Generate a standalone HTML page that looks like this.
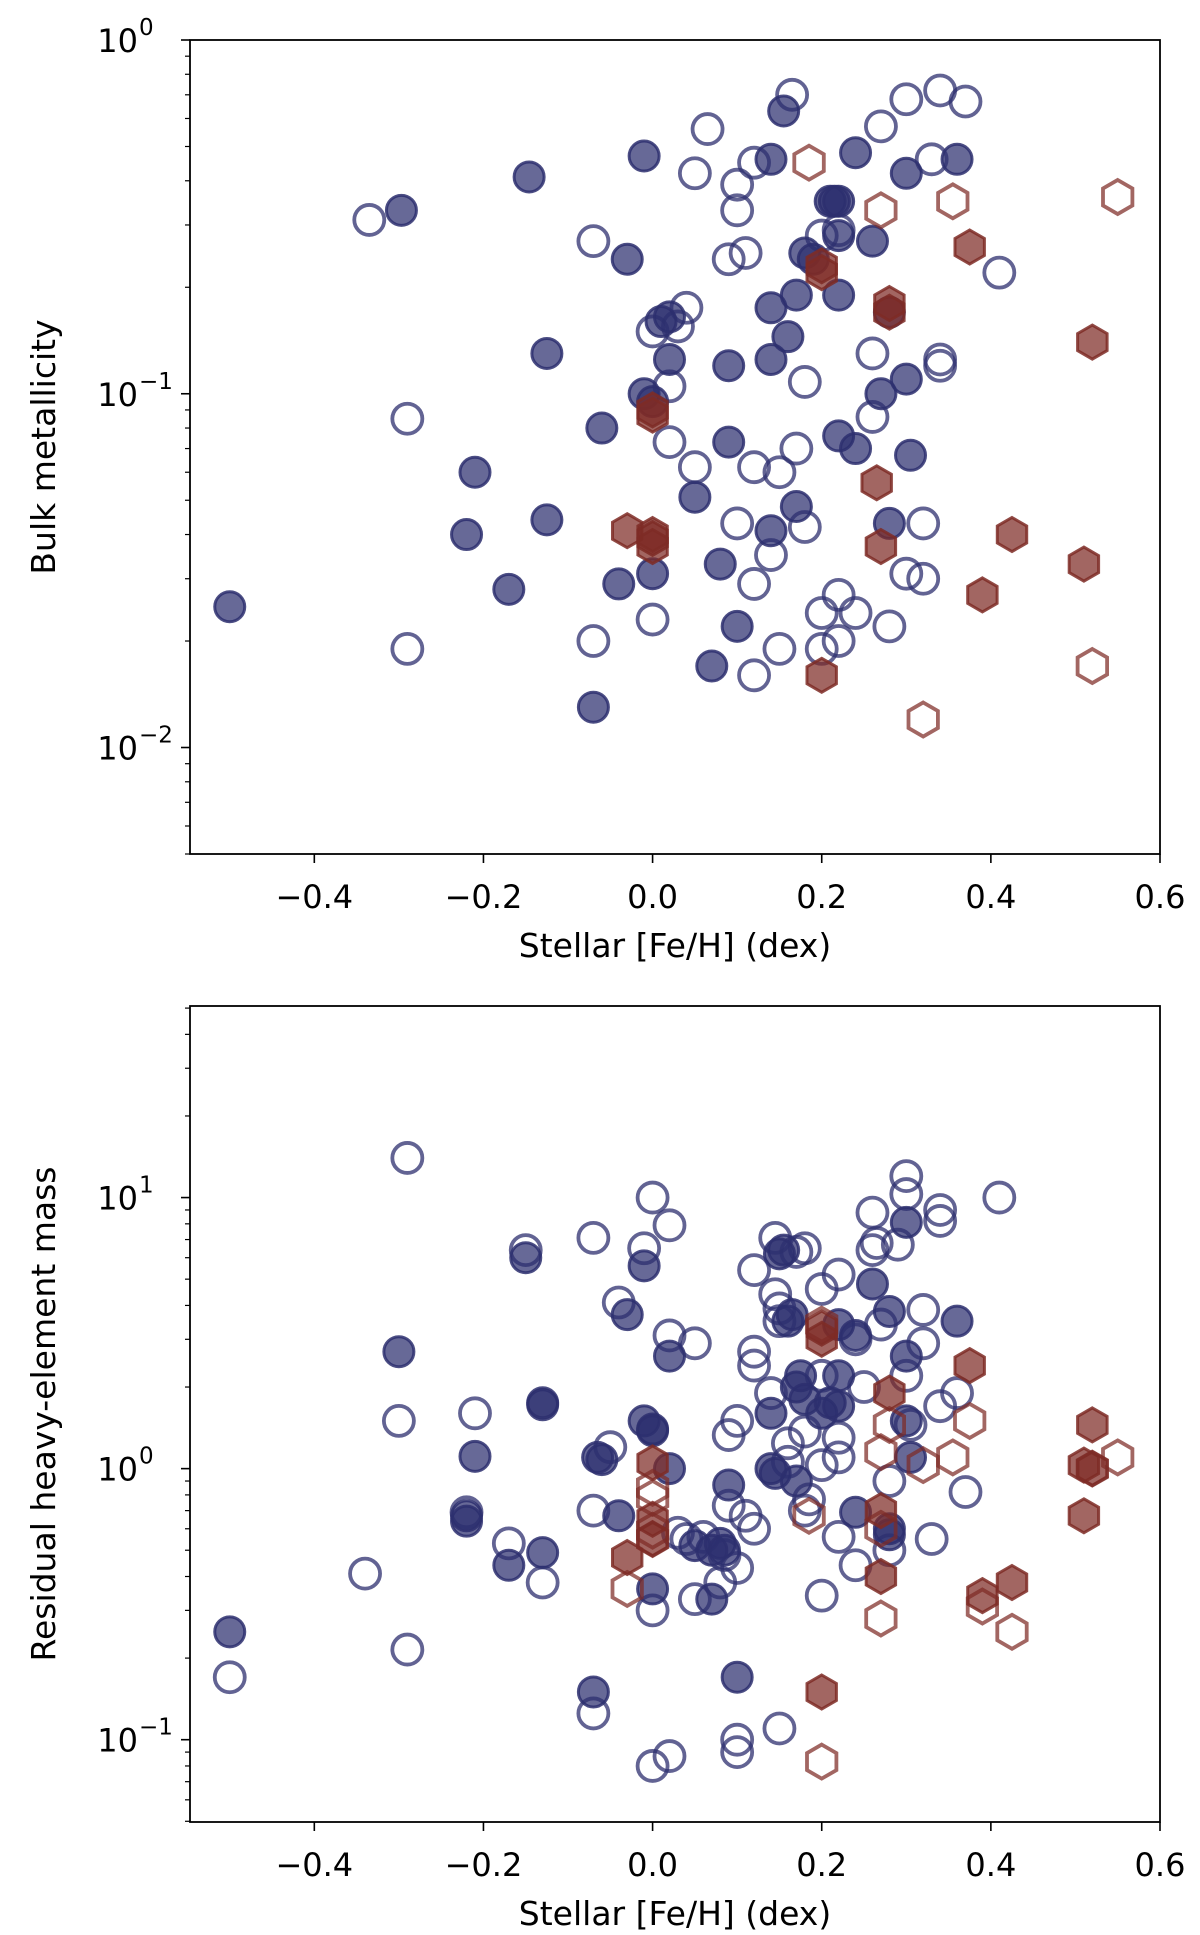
<!DOCTYPE html>
<html><head><meta charset="utf-8"><style>
html,body{margin:0;padding:0;background:#fff;}
svg{display:block;font-family:"DejaVu Sans","Liberation Sans",sans-serif;}
</style></head><body>
<svg id="chart" width="1200" height="1935" viewBox="0 0 1200 1935" xmlns="http://www.w3.org/2000/svg"></svg>
<script>
// ---- data: top panel (bulk metallicity) ----
const topFilledCircX=[-0.5,-0.297,-0.146,-0.01,-0.03,-0.125,-0.21,-0.22,-0.125,-0.17,-0.06,-0.01,0.0,-0.04,0.0,-0.07,0.02,0.02,0.01,0.09,0.09,0.05,0.08,0.07,0.1,0.155,0.14,0.14,0.16,0.14,0.17,0.17,0.14,0.18,0.19,0.21,0.22,0.215,0.22,0.22,0.22,0.24,0.24,0.26,0.27,0.28,0.28,0.3,0.3,0.305,0.36];
const topFilledCircY=[0.025,0.33,0.41,0.47,0.24,0.13,0.06,0.04,0.044,0.028,0.08,0.1,0.095,0.029,0.031,0.013,0.125,0.165,0.16,0.12,0.073,0.051,0.033,0.017,0.022,0.63,0.46,0.175,0.145,0.125,0.19,0.048,0.041,0.25,0.24,0.35,0.35,0.35,0.28,0.19,0.076,0.07,0.48,0.27,0.1,0.17,0.043,0.11,0.42,0.067,0.46];
const topOpenCircX=[-0.335,-0.29,-0.29,-0.07,-0.07,0.0,0.02,0.04,0.02,0.0,0.065,0.05,0.05,0.09,0.11,0.1,0.1,0.12,0.1,0.12,0.12,0.12,0.15,0.14,0.15,0.165,0.17,0.18,0.18,0.2,0.2,0.2,0.22,0.22,0.24,0.26,0.26,0.27,0.28,0.3,0.32,0.32,0.3,0.33,0.34,0.34,0.34,0.37,0.41,0.03,0.22];
const topOpenCircY=[0.31,0.085,0.019,0.27,0.02,0.15,0.105,0.175,0.073,0.023,0.56,0.42,0.062,0.24,0.25,0.39,0.33,0.45,0.043,0.062,0.029,0.016,0.06,0.035,0.019,0.7,0.07,0.108,0.042,0.28,0.024,0.019,0.027,0.02,0.024,0.086,0.13,0.57,0.022,0.031,0.03,0.043,0.68,0.46,0.72,0.125,0.12,0.67,0.22,0.155,0.29];
const topFilledHexX=[0.0,0.0,-0.03,0.0,0.0,0.0,0.2,0.2,0.28,0.28,0.265,0.27,0.375,0.52,0.425,0.39,0.51,0.2];
const topFilledHexY=[0.087,0.09,0.041,0.039,0.037,0.04,0.22,0.23,0.18,0.17,0.056,0.037,0.26,0.14,0.04,0.027,0.033,0.016];
const topOpenHexX=[0.185,0.27,0.355,0.55,0.52,0.32];
const topOpenHexY=[0.45,0.33,0.35,0.36,0.017,0.012];
// ---- data: bottom panel (residual heavy-element mass) ----
const botFilledCircX=[-0.5,-0.3,-0.15,-0.21,-0.22,-0.22,-0.17,-0.13,-0.13,-0.13,-0.07,-0.06,-0.065,-0.04,-0.03,-0.01,-0.01,0.0,0.0,0.02,0.02,0.0,0.05,0.07,0.08,0.09,0.1,0.07,0.085,0.14,0.145,0.14,0.155,0.16,0.165,0.17,0.17,0.175,0.18,0.2,0.22,0.21,0.22,0.22,0.24,0.24,0.26,0.28,0.28,0.28,0.3,0.3,0.3,0.305,0.36,0.15];
const botFilledCircY=[0.25,2.7,6.0,1.11,0.64,0.67,0.44,1.72,1.75,0.49,0.15,1.08,1.1,0.67,3.7,5.6,1.5,1.4,1.38,1.0,2.6,0.36,0.52,0.33,0.53,0.87,0.17,0.5,0.5,1.0,0.96,1.6,6.4,3.5,3.7,0.9,2.0,2.2,1.8,1.6,1.7,1.75,2.2,3.4,3.1,0.69,4.8,0.57,0.6,3.8,2.6,1.5,8.1,1.1,3.5,6.2];
const botOpenCircX=[-0.5,-0.34,-0.29,-0.3,-0.29,-0.21,-0.22,-0.17,-0.13,-0.15,-0.07,-0.07,-0.07,-0.04,-0.05,-0.01,0.0,0.02,0.02,0.05,0.0,0.0,0.02,0.03,0.04,0.05,0.06,0.085,0.09,0.09,0.1,0.1,0.1,0.1,0.11,0.12,0.12,0.12,0.12,0.145,0.145,0.15,0.15,0.15,0.17,0.18,0.16,0.16,0.18,0.18,0.185,0.2,0.2,0.2,0.2,0.22,0.22,0.22,0.22,0.24,0.24,0.25,0.26,0.26,0.265,0.27,0.28,0.28,0.29,0.3,0.3,0.3,0.305,0.32,0.32,0.33,0.34,0.34,0.34,0.36,0.37,0.41,0.08,0.14];
const botOpenCircY=[0.17,0.41,14,1.5,0.215,1.6,0.69,0.53,0.38,6.4,7.1,0.7,0.125,4.1,1.2,6.5,10,7.9,3.1,2.9,0.3,0.08,0.087,0.58,0.55,0.33,0.56,0.48,0.73,1.33,1.5,0.43,0.1,0.09,0.67,2.7,2.4,0.6,5.4,7.1,4.4,3.9,3.5,0.11,6.3,6.5,1.24,1.06,1.37,0.7,0.77,4.6,0.34,1.03,2.2,5.2,1.1,1.3,0.56,3.0,0.44,2.0,6.4,8.8,6.8,3.4,0.9,0.5,6.7,12,10.3,2.2,1.45,3.85,2.9,0.55,1.7,9.0,8.2,1.9,0.82,10,0.38,1.9];
const botFilledHexX=[-0.03,0.0,0.0,0.0,0.2,0.2,0.2,0.27,0.27,0.28,0.375,0.39,0.425,0.52,0.51,0.51,0.52];
const botFilledHexY=[0.47,1.05,0.65,0.55,0.15,3.3,3.0,0.7,0.4,1.9,2.4,0.34,0.38,1.45,0.67,1.03,1.0];
const botOpenHexX=[-0.03,0.0,0.0,0.0,0.0,0.185,0.2,0.2,0.27,0.27,0.27,0.28,0.32,0.355,0.375,0.39,0.425,0.52,0.55];
const botOpenHexY=[0.36,0.85,0.78,0.59,0.55,0.67,0.083,3.4,1.15,0.6,0.28,1.45,1.03,1.1,1.5,0.31,0.25,1.0,1.1];
const xTicks=[-0.4,-0.2,0.0,0.2,0.4,0.6];
const xTickLabels=["\u22120.4","\u22120.2","0.0","0.2","0.4","0.6"];

const NS="http://www.w3.org/2000/svg";
const svg=document.getElementById('chart');
function mk(tag,attrs,parent){const e=document.createElementNS(NS,tag);for(const k in attrs)e.setAttribute(k,attrs[k]);(parent||svg).appendChild(e);return e;}

const XMIN=-0.547,XMAX=0.600,L=190,R=1160;
function sx(v){return L+(v-XMIN)/(XMAX-XMIN)*(R-L);}

const NAVY="#2d2f6f", RED="#7e2b26";

function panel(cfg){
  const g=mk('g',{});
  
  
  const lmin=Math.log10(cfg.ymin),lmax=Math.log10(cfg.ymax);
  const sy=v=>cfg.bottom-(Math.log10(v)-lmin)/(lmax-lmin)*(cfg.bottom-cfg.top);
  const mg=mk('g',{},g);
  
  
  function circ(xs,ys,filled){xs.forEach((x,i)=>{
    const c=mk('circle',{cx:sx(x),cy:sy(ys[i]),r:15,fill:filled?NAVY:'none','fill-opacity':filled?0.72:0,stroke:NAVY,'stroke-opacity':filled?0.85:0.75,'stroke-width':filled?3:3.8},mg);
    
    
  });}
  function hex(xs,ys,filled){xs.forEach((x,i)=>{
    const cx=sx(x),cy=sy(ys[i]),r=17;let pts=[];
    for(let k=0;k<6;k++){const a=Math.PI/180*(-90+60*k);pts.push((cx+r*Math.cos(a)).toFixed(1)+','+(cy+r*Math.sin(a)).toFixed(1));}
    const p=mk('polygon',{points:pts.join(' '),fill:filled?RED:'none','fill-opacity':filled?0.72:0,stroke:RED,'stroke-opacity':filled?0.85:0.72,'stroke-width':filled?3:3.8},mg);
    
    
  });}
  circ(cfg.ocx,cfg.ocy,false);circ(cfg.fcx,cfg.fcy,true);hex(cfg.ohx,cfg.ohy,false);hex(cfg.fhx,cfg.fhy,true);
  const fr=mk('rect',{x:L,y:cfg.top,width:R-L,height:cfg.bottom-cfg.top,fill:'none',stroke:'#000','stroke-width':1.8},g);
  
  
  xTicks.forEach((t,i)=>{
    const x=sx(t);
    mk('line',{x1:x,y1:cfg.bottom,x2:x,y2:cfg.bottom+9,stroke:'#000','stroke-width':1.6},g);
    const tx=mk('text',{x:x,y:cfg.bottom+54,'font-size':32,'text-anchor':'middle',fill:'#000'},g);
    tx.textContent=xTickLabels[i];
    
    
  });
  for(let d=Math.floor(lmin);d<=Math.ceil(lmax);d++){
    for(let m=1;m<10;m++){
      const v=m*Math.pow(10,d);if(v<cfg.ymin*0.999||v>cfg.ymax*1.001)continue;
      const y=sy(v);
      mk('line',{x1:L,y1:y,x2:L-(m===1?9:5),y2:y,stroke:'#000','stroke-width':m===1?1.6:1.2},g);
      if(m===1){
        const tx=mk('text',{x:L-52,y:y+12,'font-size':32,'text-anchor':'end',fill:'#000'},g);
        tx.textContent='10';
        
        
        const sp=mk('text',{x:L-51,y:y-5,'font-size':23,'text-anchor':'start',fill:'#000'},g);
        sp.textContent=d<0?'\u2212'+(-d):String(d);
      }
    }
  }
  const xl=mk('text',{x:(L+R)/2,y:cfg.bottom+103,'font-size':33,'text-anchor':'middle',fill:'#000'},g);
  xl.textContent='Stellar [Fe/H] (dex)';
  
  
  const ym=(cfg.top+cfg.bottom)/2;
  const yl=mk('text',{x:0,y:0,'font-size':33,'text-anchor':'middle',fill:'#000',transform:`translate(55,${ym}) rotate(-90)`},g);
  yl.textContent=cfg.ylabel;
  
  
}
panel({name:'bulk-metallicity-panel',top:40,bottom:854,ymin:0.005,ymax:1,ylabel:'Bulk metallicity',
  fcx:topFilledCircX,fcy:topFilledCircY,ocx:topOpenCircX,ocy:topOpenCircY,fhx:topFilledHexX,fhy:topFilledHexY,ohx:topOpenHexX,ohy:topOpenHexY});
panel({name:'residual-mass-panel',top:1006,bottom:1822,ymin:0.0497,ymax:50.9,ylabel:'Residual heavy-element mass',
  fcx:botFilledCircX,fcy:botFilledCircY,ocx:botOpenCircX,ocy:botOpenCircY,fhx:botFilledHexX,fhy:botFilledHexY,ohx:botOpenHexX,ohy:botOpenHexY});
</script>
</body></html>
